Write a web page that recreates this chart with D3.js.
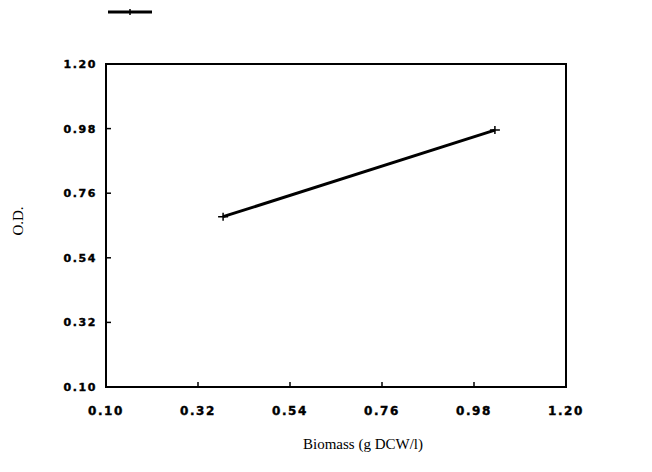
<!DOCTYPE html>
<html><head><meta charset="utf-8">
<script src="https://cdn.jsdelivr.net/npm/d3@7"></script>
<style>body{margin:0;background:#fff}</style>
</head><body>
<svg id="c" width="652" height="472"></svg>
<script>
const biomass = [0.38, 1.03];
const od = [0.68, 0.975];
const xTicks = [0.10, 0.32, 0.54, 0.76, 0.98, 1.20];
const yTicks = [0.10, 0.32, 0.54, 0.76, 0.98, 1.20];
const xTitle = "Biomass (g DCW/l)";
const yTitle = "O.D.";

const svg = d3.select("#c");
const x = d3.scaleLinear().domain([0.10, 1.20]).range([106, 566]);
const y = d3.scaleLinear().domain([0.10, 1.20]).range([387, 64]);

svg.append("rect").attr("x", x(0.10)).attr("y", y(1.20))
  .attr("width", x(1.20) - x(0.10)).attr("height", y(0.10) - y(1.20))
  .attr("fill", "none").attr("stroke", "#000").attr("stroke-width", 2);

const lab = "'DejaVu Sans', Verdana, sans-serif";
const gx = svg.append("g");
xTicks.forEach(t => {
  if (t > 0.10 && t < 1.20) gx.append("line").attr("x1", x(t)).attr("x2", x(t))
    .attr("y1", y(0.10)).attr("y2", y(0.10) - 5).attr("stroke", "#000").attr("stroke-width", 1.5);
  gx.append("text").attr("x", x(t)).attr("y", 415).attr("text-anchor", "middle")
    .attr("font-family", lab).attr("font-weight", "bold").attr("font-size", 12)
    .attr("stroke", "#000").attr("stroke-width", 0.4)
    .attr("letter-spacing", 1.6).text(t.toFixed(2));
});
const gy = svg.append("g");
yTicks.forEach(t => {
  if (t > 0.10 && t < 1.20) gy.append("line").attr("x1", x(0.10)).attr("x2", x(0.10) + 5)
    .attr("y1", y(t)).attr("y2", y(t)).attr("stroke", "#000").attr("stroke-width", 1.5);
  gy.append("text").attr("x", 97).attr("y", y(t) + 4).attr("text-anchor", "end")
    .attr("font-family", lab).attr("font-weight", "bold").attr("font-size", 11)
    .attr("stroke", "#000").attr("stroke-width", 0.4)
    .attr("letter-spacing", 1.6).text(t.toFixed(2));
});

const pts = biomass.map((b, i) => [b, od[i]]);
svg.append("path").datum(pts)
  .attr("d", d3.line().x(d => x(d[0])).y(d => y(d[1])))
  .attr("fill", "none").attr("stroke", "#000").attr("stroke-width", 3);
pts.forEach(d => {
  const cx = x(d[0]), cy = y(d[1]);
  svg.append("path").attr("d", `M${cx-5},${cy}H${cx+5}M${cx},${cy-4}V${cy+4}`)
    .attr("stroke", "#000").attr("stroke-width", 1.5).attr("fill", "none");
});

svg.append("line").attr("x1", 108).attr("x2", 152).attr("y1", 12).attr("y2", 12)
  .attr("stroke", "#000").attr("stroke-width", 3);
svg.append("line").attr("x1", 130).attr("x2", 130).attr("y1", 9).attr("y2", 15)
  .attr("stroke", "#000").attr("stroke-width", 1.5);

svg.append("text").attr("x", 363).attr("y", 449).attr("text-anchor", "middle")
  .attr("font-family", "'Liberation Serif', 'Times New Roman', serif").attr("font-size", 15)
  .text(xTitle);
svg.append("text").attr("transform", "translate(23,221) rotate(-90)").attr("text-anchor", "middle")
  .attr("font-family", "'Liberation Serif', 'Times New Roman', serif").attr("font-size", 15)
  .text(yTitle);
</script>
</body></html>
